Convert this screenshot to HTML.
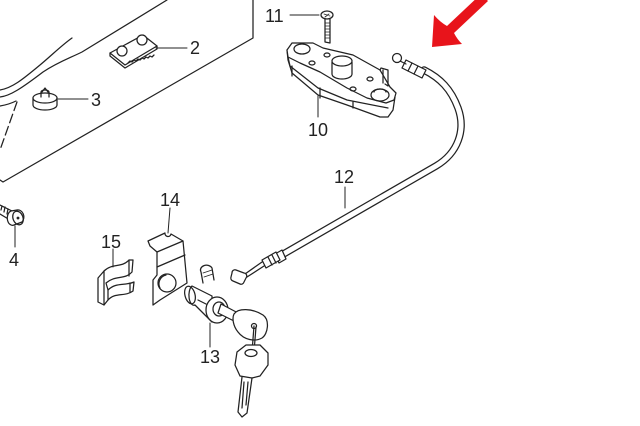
<!DOCTYPE html>
<html><head><meta charset="utf-8"><style>
html,body{margin:0;padding:0;background:#fff;}
svg{display:block;}
text{font-family:"Liberation Sans",sans-serif;font-size:18px;fill:#222;}
</style></head><body>
<svg width="640" height="426" viewBox="0 0 640 426" xmlns="http://www.w3.org/2000/svg">
<g fill="none" stroke="#222" stroke-width="1.25" stroke-linejoin="round" stroke-linecap="round">
<!-- big panel -->
<path d="M0,90 C12,88 22,80 40,65 C52,55 62,45 72,38"/>
<path d="M0,97 C10,96 22,88 43,72 C58,62 70,58 82,52 L167,0"/>
<path d="M0,106 C6,105 12,103 16,101"/>
<path d="M17,102 L0,150" stroke-dasharray="9,4"/>
<path d="M253,0 L253,38 L3,182 L0,180"/>
<!-- part 2 -->
<path d="M110,53 L143,35 L157,46 L125,65 Z" fill="#fff"/>
<path d="M110,53 L110,56 L125,68 L157,49 L157,46"/>
<path d="M128,63 l2,-2 l2,1 l2,-2 l2,1 l2,-2 l2,1 l2,-2 l2,1 l2,-2 l2,1 l2,-2 l2,1 l2,-2"/>
<circle cx="122" cy="51" r="5" fill="#fff"/>
<circle cx="142" cy="40" r="5" fill="#fff"/>
<line x1="156" y1="48" x2="187" y2="48" stroke-width="1"/>
<!-- part 3 -->
<path d="M33,98 L33,105 A12,5 0 0 0 57,105 L57,98"/>
<ellipse cx="45" cy="98" rx="12" ry="5" fill="#fff"/>
<path d="M41,97 L41,92 A4,2 0 0 1 49,92 L49,97"/>
<path d="M42,92 L45,88 L48,92"/>
<line x1="58" y1="99" x2="88" y2="99" stroke-width="1"/>
<!-- part 4 bolt -->
<path d="M0,205 L12,211 M0,214 L10,220"/>
<path d="M2,206 l-1,4 M5,207 l-1,5 M8,209 l-1,5"/>
<path d="M11,211 L17,210 A6,7 0 0 1 22,222 L14,225 A5,7 0 0 1 11,211 Z" fill="#fff"/>
<ellipse cx="18" cy="218" rx="5" ry="7" transform="rotate(-20 18 218)"/>
<circle cx="18" cy="218" r="0.8" fill="#222"/>
<line x1="15" y1="226" x2="15" y2="247" stroke-width="1"/>
<!-- part 11 screw -->
<line x1="290" y1="15" x2="319" y2="15" stroke-width="1"/>
<ellipse cx="327" cy="15" rx="6" ry="4" fill="#fff"/>
<path d="M324,14 l6,2 M325,17 l4,-3" stroke-width="0.8"/>
<path d="M325,19 L325,42 L330,43 L330,19"/>
<path d="M325,23 h5 M325,26 h5 M325,29 h5 M325,32 h5 M325,35 h5 M325,38 h5" stroke-width="0.8"/>
<!-- part 10 bracket -->
<path d="M287,50 L288,60 L292,73 L318,95 L347,105 L380,117 L388,117 L393,110 L395,97" fill="#fff"/>
<path d="M287,50 L292,43 L313,43 L323,48 L353,55 L380,70 L390,87 L396,93 L394,100 L386,103 L367,98 L347,88 L320,72 L300,63 L288,57 Z" fill="#fff"/>
<path d="M288,57 L290,66 L318,88 L347,100 L388,108"/>
<path d="M292,66 L292,76 M320,88 L320,98 M353,102 L353,108"/>
<ellipse cx="302" cy="49" rx="8" ry="5"/>
<ellipse cx="380" cy="95" rx="9" ry="6"/>
<path d="M374,92 A6,3 0 0 1 386,92"/>
<ellipse cx="327" cy="55" rx="3" ry="2"/>
<ellipse cx="312" cy="63" rx="3" ry="2"/>
<ellipse cx="370" cy="79" rx="3" ry="2"/>
<ellipse cx="353" cy="89" rx="3" ry="2"/>
<path d="M332,62 L332,74 A10,5 0 0 0 352,74 L352,62" fill="#fff"/>
<ellipse cx="342" cy="61" rx="10" ry="5" fill="#fff"/>
<path d="M380,70 L381,68 L388,70 L388,86 L385,84"/>
<path d="M383,70 L383,83"/>
<line x1="318" y1="96" x2="318" y2="117" stroke-width="1"/>
<!-- cable 12 -->
<path d="M280,256 L436,166 C458,153 466,130 458,108 C451,89 440,78 424,70" stroke-width="7.5"/>
<path d="M280,256 L436,166 C458,153 466,130 458,108 C451,89 440,78 424,70" stroke="#fff" stroke-width="5"/>
<path d="M406,60 L426,70 L422,78 L402,68 Z" fill="#fff"/>
<path d="M412,63 L408,71 M418,66 L414,74"/>
<line x1="400" y1="61" x2="406" y2="64"/>
<circle cx="397" cy="58" r="4.5" fill="#fff"/>
<line x1="345" y1="187" x2="345" y2="208" stroke-width="1"/>
<path d="M275,254 L282,250 L286,259 L279,263 Z" fill="#fff"/>
<path d="M262,260 L276,252 L280,260 L266,268 Z" fill="#fff"/>
<path d="M268,257 L272,265 M272,255 L276,263"/>
<path d="M262,262 L245,274 M264,266 L247,277"/>
<path d="M236,270 L244,273 A3,3 0 0 1 246,278 L244,282 A3,3 0 0 1 240,284 L233,281 A3,3 0 0 1 231,277 L232,273 A3,3 0 0 1 236,270 Z" fill="#fff"/>
<!-- part 14 bracket -->
<path d="M148,241 L165,233 A3,3 0 0 0 171,234 L183,241 L187,283 L160,300 L153,305 L153,280 L157,275 L157,252 L150,246 Z" fill="#fff"/>
<path d="M157,252 L183,241 M157,267 L185,255"/>
<circle cx="167" cy="283" r="9"/>
<path d="M160,288 A9,9 0 0 1 166,275"/>
<line x1="170" y1="208" x2="168" y2="233" stroke-width="1"/>
<!-- part 15 clip -->
<path d="M98,278 L98,302 L104,305 L108,300 C115,292 125,297 133,291 L134,282 C125,286 116,282 108,290 L106,283 C115,275 125,280 132,272 L133,260 L129,260 C122,268 112,263 104,271 Z" fill="#fff"/>
<path d="M104,271 L104,305 M108,290 L108,300"/>
<path d="M129,260 L129,276 M130,283 L130,292"/>
<line x1="113" y1="249" x2="113" y2="267" stroke-width="1"/>
<!-- part 13 lock -->
<path d="M203,283 L201,272 A5,4 0 0 1 212,268 L214,280" fill="#fff"/>
<path d="M203,273 l9,-3 M204,277 l9,-3" stroke-width="0.8"/>
<path d="M192,286 L212,296 L212,322 L195,305 A5,10 0 0 1 192,286 Z" fill="#fff"/>
<ellipse cx="190" cy="295" rx="5" ry="9" transform="rotate(-15 190 295)"/>
<path d="M198,300 L206,304"/>
<ellipse cx="217" cy="310" rx="11" ry="13" fill="#fff"/>
<ellipse cx="219" cy="309" rx="6" ry="7"/>
<path d="M221,304 L240,314 L236,322 L218,313 Z" fill="#fff"/>
<path d="M234,314 C238,308 252,308 263,315 C270,320 268,334 262,338 C255,342 244,340 238,332 C233,326 232,318 234,314 Z" fill="#fff"/>
<circle cx="254" cy="326" r="2.5"/>
<path d="M254,326 L252,352 M256,327 L254,352"/>
<path d="M237,352 L246,345 L260,345 L268,353 L268,365 L260,376 L252,378 L240,376 L235,365 Z" fill="#fff"/>
<ellipse cx="251" cy="353" rx="6" ry="3.5"/>
<path d="M242,377 L238,412 L242,417 L247,413 L252,378"/>
<path d="M244,382 L242,408 M248,382 L246,405"/>
<line x1="210" y1="323" x2="210" y2="347" stroke-width="1"/>
</g>
<!-- red arrow -->
<path d="M432,47 L434,15 Q440,22 447,26 L481,-6 L488,1 L454,33 Q457,39 462,44 Z" fill="#e8141b"/>
<!-- labels -->
<text x="190" y="54">2</text>
<text x="91" y="106">3</text>
<text x="9" y="266">4</text>
<text x="265" y="22">11</text>
<text x="308" y="136">10</text>
<text x="334" y="183">12</text>
<text x="160" y="206">14</text>
<text x="101" y="248">15</text>
<text x="200" y="363">13</text>
</svg>
</body></html>
